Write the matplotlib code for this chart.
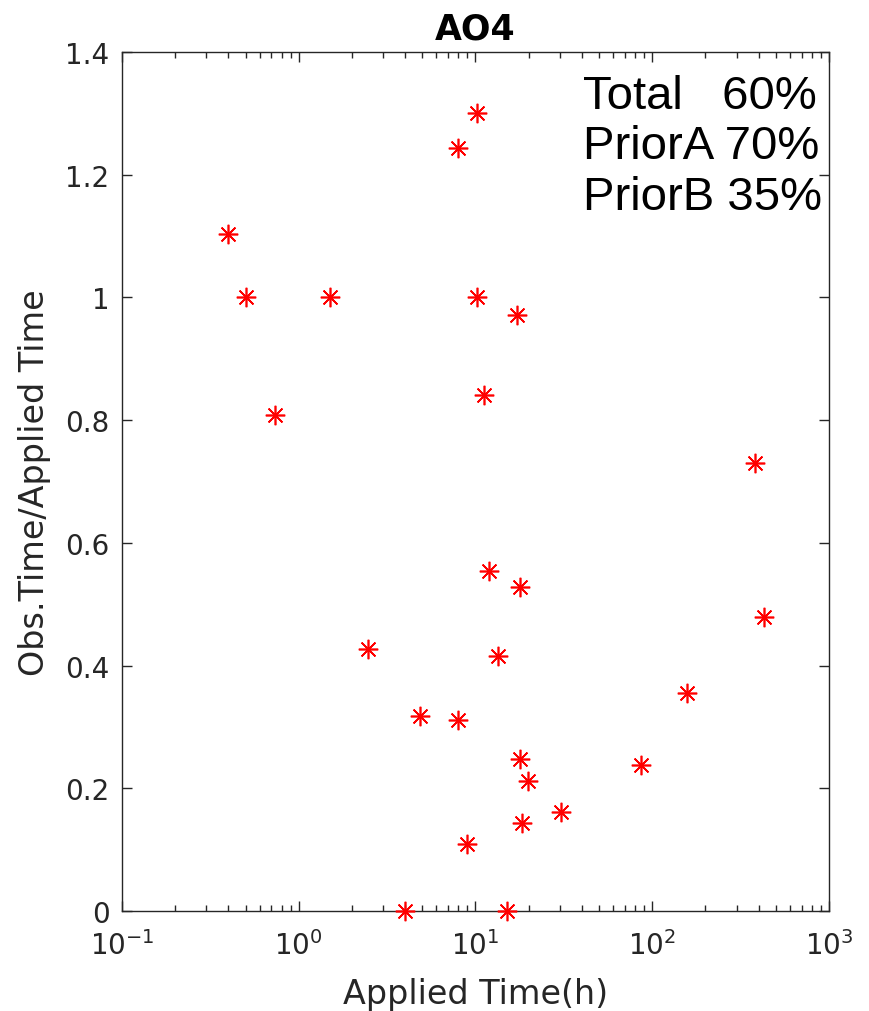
import matplotlib
matplotlib.use("Agg")
import matplotlib.pyplot as plt
from matplotlib.ticker import LogLocator, NullFormatter, MultipleLocator, FuncFormatter

applied_h = [0.40, 0.50, 0.73, 1.50, 2.46, 3.99, 4.85, 7.96, 7.96, 8.95,
             10.2, 10.2, 11.2, 11.9, 13.4, 15.1, 17.2, 17.9, 17.9, 18.3,
             19.8, 30.5, 86.4, 157, 381, 429]
obs_ratio = [1.103, 1.0, 0.808, 1.0, 0.427, 0.0, 0.318, 1.243, 0.311, 0.109,
             1.300, 1.0, 0.841, 0.554, 0.416, 0.0, 0.971, 0.528, 0.248, 0.143,
             0.212, 0.161, 0.238, 0.355, 0.730, 0.479]
summary_lines = ["Total   60%", "PriorA 70%", "PriorB 35%"]

axis_grey = "#262626"

fig = plt.figure(figsize=(8.7, 10.12), dpi=100)
ax = fig.add_axes([0.1402, 0.0988, 0.8127, 0.8488])

ax.plot(applied_h, obs_ratio, linestyle="none", marker=(8, 2, 0),
        markersize=14, markeredgewidth=1.2, color="red", clip_on=False, zorder=5)

ax.set_xscale("log")
ax.set_xlim(0.1, 1000)
ax.set_ylim(0, 1.4)
ax.yaxis.set_major_locator(MultipleLocator(0.2))
ax.yaxis.set_major_formatter(FuncFormatter(lambda v, _: f"{v:g}"))
ax.xaxis.set_major_locator(LogLocator(base=10, numticks=10))
ax.xaxis.set_minor_locator(LogLocator(base=10, subs=range(2, 10), numticks=10))
ax.xaxis.set_minor_formatter(NullFormatter())

ax.tick_params(which="both", direction="in", top=True, right=True,
               colors=axis_grey, width=1.0)
ax.tick_params(which="major", length=7, labelsize=20)
ax.tick_params(axis="x", which="major", pad=14)
ax.tick_params(axis="y", which="major", pad=9)
ax.tick_params(which="minor", length=4)
for sp in ax.spines.values():
    sp.set_color(axis_grey)
    sp.set_linewidth(1.0)

ax.set_xlabel("Applied Time(h)", fontsize=24, color=axis_grey, labelpad=12)
ax.set_ylabel("Obs.Time/Applied Time", fontsize=24, color=axis_grey, labelpad=10)
ax.set_title("AO4", fontsize=25, fontweight="bold", pad=10)

ax.text(0.652, 0.975, "\n".join(summary_lines), transform=ax.transAxes,
        ha="left", va="top", fontsize=34, family="Liberation Sans",
        linespacing=1.2, color="black")

fig.savefig("out.png", dpi=100)
